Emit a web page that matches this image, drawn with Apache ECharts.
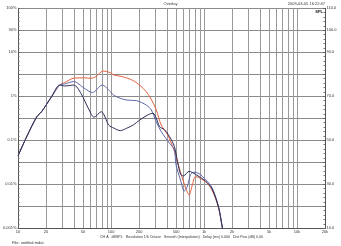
<!DOCTYPE html>
<html><head><meta charset="utf-8">
<script src="https://cdn.jsdelivr.net/npm/echarts@6/dist/echarts.min.js"></script>
<style>html,body{margin:0;padding:0;background:#fff}#c{width:341px;height:246px}</style>
</head><body><div id="c"></div>
<script>
// ---- data ----
const gridFreqs = [10,20,30,40,50,60,70,80,90,100,200,300,400,500,600,700,800,900,1000,2000,3000,4000,5000,6000,7000,8000,9000,10000,20000];
const xLabelFreqs = [10,20,50,100,200,500,1000,2000,5000,10000,20000];
const leftLabels = {110:'100%',100:'30%',90:'10%',70:'1%',50:'0.1%',30:'0.01%',10:'0.001%'};
const rightLabels = {110:'110.0',100:'100.0',90:'90.0',70:'70.0',50:'50.0',30:'30.0',10:'10.0'};

const redFreq = [10,12.5,15.9,17.9,22.9,28,31.6,40.3,51.4,60.6,68.4,82.3,98.6,106.8,130.7,173.8,221.7,260.9,306.4,346,407,480,563,636,691,749,811,1034,1218,1434,1580,1700];
const redDb   = [43,52,60.7,63,69.8,75.1,76.2,78.3,78.4,78.2,78.9,81.5,80.7,79.7,79.0,77.1,73.6,69.8,63.8,57.0,52.4,45,35.0,28.2,25.1,29.7,33.5,31.2,27.4,19.1,10,4];

const blueFreq = [10,12.5,15.9,17.9,22.9,28,31.6,39.7,51.4,63,80.3,98.6,106.8,125.7,147.6,188.3,240,271,306,346,425,480,499,563,612,663,718,780,881,1034,1218,1434,1580,1700];
const blueDb   = [43,52,60.7,63,69.8,75.1,75.6,76.7,73.7,71.7,75.1,72.1,70.5,69.1,68.3,68.0,66.0,63.8,58.5,54.0,48.7,45.7,39.0,31.4,26.9,29.2,34.5,35.5,34.9,32.2,28.5,19.8,10,4];

const darkFreq = [10,12.5,15.9,17.9,22.9,28,31.6,39.7,47.5,58.1,65.6,78.4,94.6,106.8,125.7,147.6,173.8,204.6,250,283,306,333,376,425,480,520,560,600,691,811,1034,1218,1434,1580,1700];
const darkDb   = [43,52,60.7,63,69.8,75.1,74.7,75.1,71.3,63.8,60.5,63.0,56.9,55.6,54.4,55.5,57.0,59.3,61.6,62.3,60.1,56.2,54.8,51.7,47.2,40,34.5,33.8,35.9,34.5,31.5,28,19.5,10,4];

const pairs = (f, d) => f.map((v, i) => [v, d[i]]);
const fmtHz = v => v >= 1000 ? (v / 1000) + 'k' : String(v);

const chart = echarts.init(document.getElementById('c'), null, {renderer: 'canvas'});
const txt = {fontFamily: 'Liberation Sans', fontSize: 4, color: '#333'};
chart.setOption({
  animation: false,
  backgroundColor: '#fff',
  grid: {left: 12.7, right: 16, top: 8.3, bottom: 17.7, containLabel: false},
  xAxis: {
    type: 'log', logBase: 10, min: 10, max: 20000,
    axisLine: {show: true, lineStyle: {color: '#555', width: 1}},
    axisTick: {show: false, customValues: gridFreqs},
    axisLabel: Object.assign({customValues: xLabelFreqs, formatter: fmtHz, margin: 2}, txt),
    splitLine: {show: true, lineStyle: {color: '#9a9a9a', width: 1}},
    minorSplitLine: {show: false}
  },
  yAxis: [{
    type: 'value', min: 10, max: 110, interval: 10, position: 'left',
    axisLine: {show: true, lineStyle: {color: '#555'}},
    axisTick: {show: true, inside: true, length: 2, lineStyle: {color: '#666'}},
    minorTick: {show: true, splitNumber: 5, length: 1.5, lineStyle: {color: '#777'}},
    axisLabel: Object.assign({formatter: v => leftLabels[v] || '', margin: 1.5}, txt),
    splitLine: {show: true, lineStyle: {color: '#8a8a8a', width: 1}}
  }, {
    type: 'value', min: 10, max: 110, interval: 10, position: 'right',
    axisLine: {show: true, lineStyle: {color: '#555'}},
    axisTick: {show: true, inside: true, length: 2, lineStyle: {color: '#666'}},
    minorTick: {show: true, splitNumber: 5, length: 1.5, lineStyle: {color: '#777'}},
    axisLabel: Object.assign({formatter: v => rightLabels[v] || '', margin: 1.5}, txt),
    splitLine: {show: false}
  }],
  series: [
    {type: 'line', name: 'red', data: pairs(redFreq, redDb), showSymbol: false, smooth: 0.3, clip: true,
     lineStyle: {color: '#e2603e', width: 1}, z: 3},
    {type: 'line', name: 'blue', data: pairs(blueFreq, blueDb), showSymbol: false, smooth: 0.3, clip: true,
     lineStyle: {color: '#5c66a8', width: 1}, z: 4},
    {type: 'line', name: 'dark', data: pairs(darkFreq, darkDb), showSymbol: false, smooth: 0.3, clip: true,
     lineStyle: {color: '#2c2e58', width: 1}, z: 5}
  ],
  graphic: [
    {type: 'text', left: 'center', top: 1.5, style: Object.assign({text: 'Overlay'}, txt, {fill: '#333', font: '4px "Liberation Sans"'})},
    {type: 'text', right: 16, top: 1.5, style: {text: '2009-03-05 16:22:47', fill: '#333', font: '4px "Liberation Sans"'}},
    {type: 'text', right: 18, top: 9.5, style: {text: 'SPL', fill: '#111', font: 'bold 4px "Liberation Sans"'}},
    {type: 'text', left: 100, top: 234.5, style: {text: 'CH A   dBSPL   Resolution 1/6 Octave   Smooth (Interpolation)   Delay (ms) 0.000   Dist Pow (dB) 0.00', fill: '#333', font: '3.6px "Liberation Sans"'}},
    {type: 'text', left: 12, top: 240.5, style: {text: 'File: untitled.mdat', fill: '#333', font: '4px "Liberation Sans"'}}
  ]
});
</script></body></html>
